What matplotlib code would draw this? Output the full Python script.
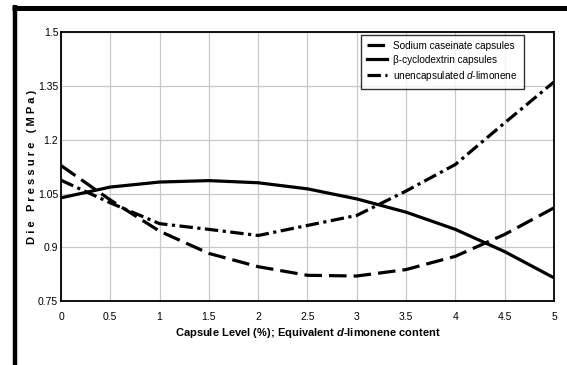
import numpy as np
import matplotlib
matplotlib.use('Agg')
import matplotlib.pyplot as plt
from matplotlib.lines import Line2D

# Data
capsule_level = [0, 0.5, 1, 1.5, 2, 2.5, 3, 3.5, 4, 4.5, 5]
sodium_caseinate = [1.128, 1.032, 0.945, 0.883, 0.846, 0.822, 0.820, 0.838, 0.875, 0.936, 1.010]
beta_cyclodextrin = [1.038, 1.068, 1.082, 1.086, 1.080, 1.063, 1.035, 0.998, 0.950, 0.888, 0.815]
unencapsulated = [1.087, 1.024, 0.966, 0.950, 0.933, 0.961, 0.989, 1.057, 1.131, 1.247, 1.361]

x_ticks = [0, 0.5, 1, 1.5, 2, 2.5, 3, 3.5, 4, 4.5, 5]
x_ticklabels = ['0', '0.5', '1', '1.5', '2', '2.5', '3', '3.5', '4', '4.5', '5']
y_ticks = [0.75, 0.9, 1.05, 1.2, 1.35, 1.5]
y_ticklabels = ['0.75', '0.9', '1.05', '1.2', '1.35', '1.5']

plt.rcParams['font.family'] = ['Liberation Sans', 'DejaVu Sans']
plt.rcParams['mathtext.fontset'] = 'custom'
plt.rcParams['mathtext.rm'] = 'Liberation Sans'
plt.rcParams['mathtext.it'] = 'Liberation Sans:italic'
plt.rcParams['mathtext.bf'] = 'Liberation Sans:bold'
plt.rcParams['mathtext.bfit'] = 'Liberation Sans:bold:italic'

fig = plt.figure(figsize=(5.67, 3.65), dpi=100)
ax = fig.add_axes([0.1076, 0.175, 0.8694, 0.737])

# thick black frame on left and top of the picture
fig.add_artist(Line2D([14.5 / 567, 14.5 / 567], [0, 1 - 5 / 365], color='black',
                      linewidth=3.2, solid_capstyle='butt', transform=fig.transFigure))
fig.add_artist(Line2D([12 / 567, 1], [1 - 8 / 365, 1 - 8 / 365], color='black',
                      linewidth=3.6, solid_capstyle='butt', transform=fig.transFigure))

ax.plot(capsule_level, sodium_caseinate, color='black', linewidth=2.3,
        dashes=(5.5, 2.2), label='Sodium caseinate capsules')
ax.plot(capsule_level, beta_cyclodextrin, color='black', linewidth=2.3,
        label='\u03b2-cyclodextrin capsules')
ax.plot(capsule_level, unencapsulated, color='black', linewidth=2.3,
        dashes=(4.2, 1.4, 1.0, 1.4), label='unencapsulated $\\mathit{d}$-limonene')

ax.set_xlim(0, 5)
ax.set_ylim(0.75, 1.5)
ax.set_xticks(x_ticks)
ax.set_xticklabels(x_ticklabels)
ax.set_yticks(y_ticks)
ax.set_yticklabels(y_ticklabels)
ax.tick_params(axis='both', labelsize=7.5, length=0, pad=8)
ax.tick_params(axis='y', pad=2)
ax.grid(True, color='#c8c8c8', linewidth=0.9)
ax.set_axisbelow(True)
for s in ax.spines.values():
    s.set_linewidth(1.3)
    s.set_color('black')

ax.set_xlabel('Capsule Level (%); Equivalent $\\mathbfit{d}$-limonene content',
              fontsize=8, fontweight='bold', labelpad=3)
ax.set_ylabel('D i e   P r e s s u r e   ( M P a )', fontsize=8,
              fontweight='bold')
ax.yaxis.set_label_coords(-0.049, 0.5)

leg = ax.legend(loc='upper right', bbox_to_anchor=(0.943, 0.997), fontsize=7.2,
                frameon=True, fancybox=False, handlelength=2.0, handletextpad=0.6,
                borderpad=0.6, labelspacing=0.38, borderaxespad=0.2)
leg.get_frame().set_edgecolor('black')
leg.get_frame().set_linewidth(1.0)

fig.savefig('out.png', dpi=100)
